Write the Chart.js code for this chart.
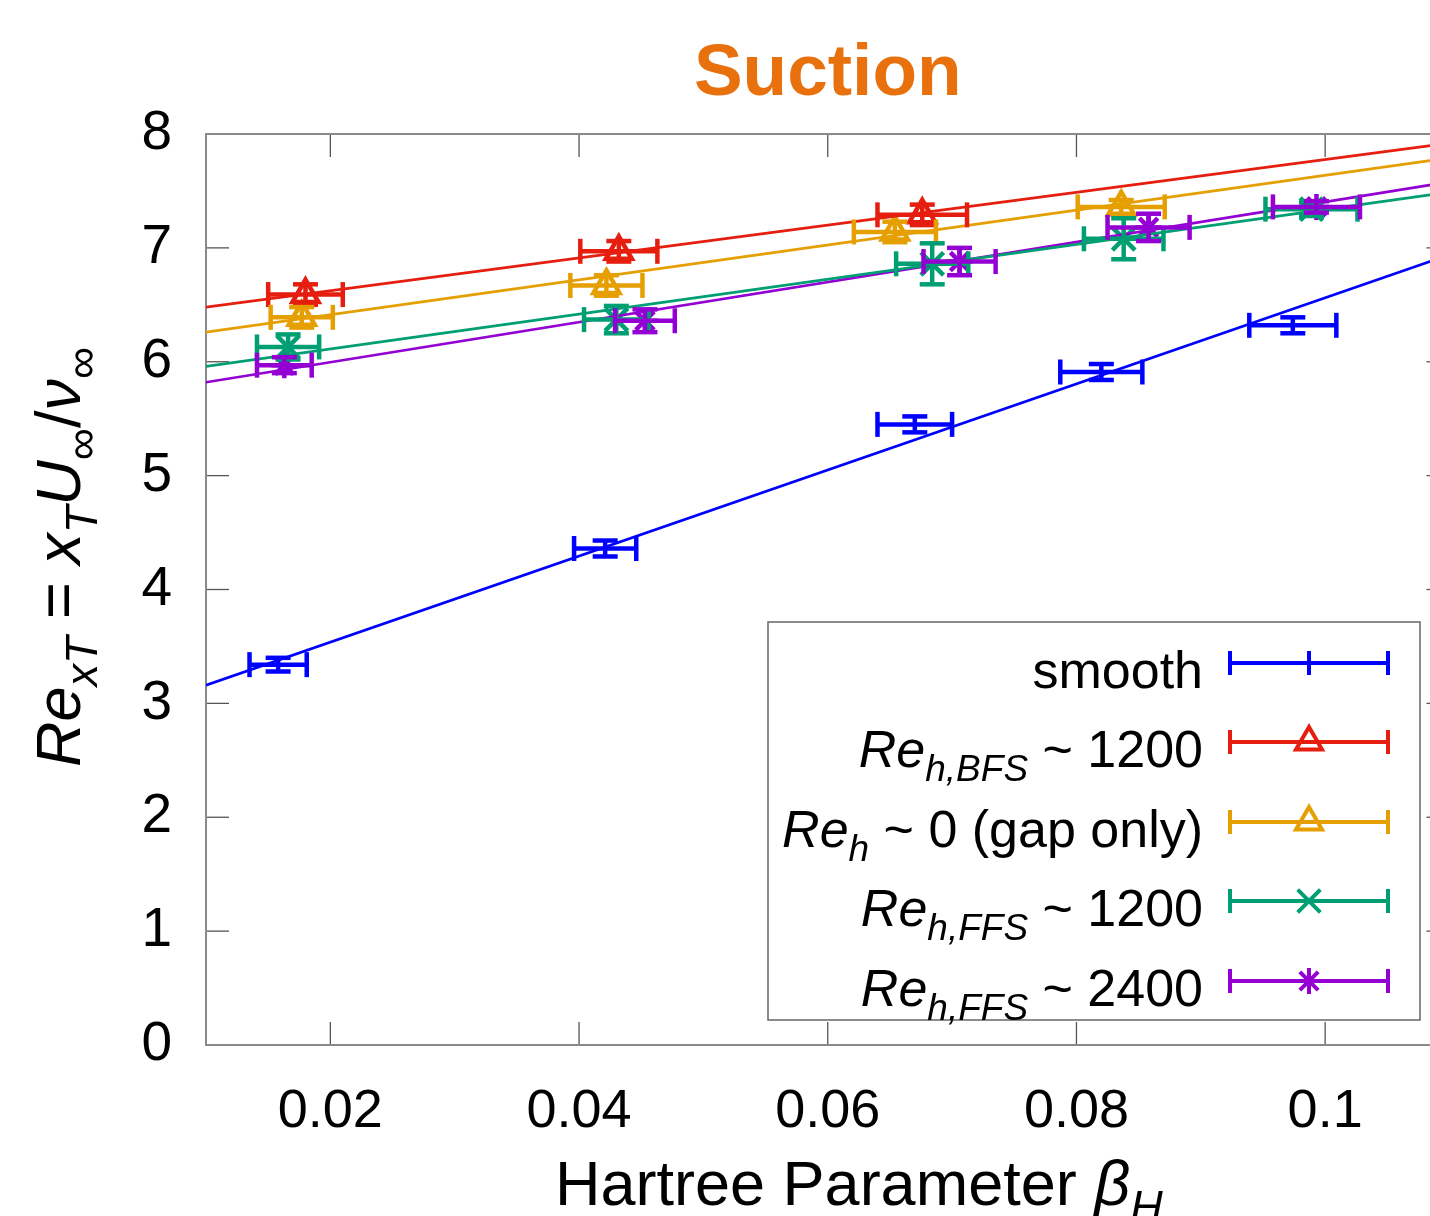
<!DOCTYPE html>
<html>
<head>
<meta charset="utf-8">
<script src="https://cdn.jsdelivr.net/npm/chart.js@4.4.0/dist/chart.umd.min.js"></script>
<style>
  html, body { margin: 0; padding: 0; background: #fff; overflow: hidden; }
  #wrap { position: relative; width: 1430px; height: 1216px; overflow: hidden; }
  canvas { display: block; }
</style>
</head>
<body>
<div id="wrap"><canvas id="chart" width="1470" height="1216"></canvas></div>
<script>
// axis ticks
const xTicks = [0.02, 0.04, 0.06, 0.08, 0.1];
const xTickLabels = ['0.02', '0.04', '0.06', '0.08', '0.1'];
const yTicks = [0, 1, 2, 3, 4, 5, 6, 7, 8];

// smooth
const smoothX = [0.0158, 0.0421, 0.0670, 0.0820, 0.0974];
const smoothY = [3.34, 4.36, 5.45, 5.91, 6.32];
const smoothXErr = [0.0023, 0.0025, 0.0030, 0.0033, 0.0035];
const smoothYErr = [0.06, 0.07, 0.07, 0.07, 0.07];
const smoothFit = [3.16, 6.94];   // fit line at x = 0.01 and x = 0.11

// Re_h,BFS ~ 1200
const bfsX = [0.0180, 0.0432, 0.0676];
const bfsY = [6.59, 6.97, 7.29];
const bfsXErr = [0.0030, 0.0031, 0.0036];
const bfsYErr = [0.09, 0.09, 0.09];
const bfsFit = [6.48, 7.92];

// Re_h ~ 0 (gap only)
const gapX = [0.0177, 0.0422, 0.0654, 0.0836];
const gapY = [6.39, 6.67, 7.14, 7.36];
const gapXErr = [0.0025, 0.0029, 0.0033, 0.0035];
const gapYErr = [0.09, 0.09, 0.09, 0.06];
const gapFit = [6.26, 7.79];

// Re_h,FFS ~ 1200
const ffs1X = [0.0166, 0.0430, 0.0684, 0.0838, 0.0989];
const ffs1Y = [6.13, 6.37, 6.86, 7.08, 7.34];
const ffs1XErr = [0.0025, 0.0026, 0.0029, 0.0032, 0.0037];
const ffs1YErr = [0.11, 0.12, 0.18, 0.18, 0.06];
const ffs1Fit = [5.96, 7.49];

// Re_h,FFS ~ 2400
const ffs2X = [0.0163, 0.0453, 0.0706, 0.0858, 0.0993];
const ffs2Y = [5.97, 6.36, 6.88, 7.18, 7.36];
const ffs2XErr = [0.0022, 0.0024, 0.0029, 0.0033, 0.0035];
const ffs2YErr = [0.07, 0.10, 0.12, 0.12, 0.05];
const ffs2Fit = [5.82, 7.58];

const FONT = '"Liberation Sans", Arial, sans-serif';

const series = [
  { name: [['smooth', '']], color: '#0000ff', xs: smoothX, ys: smoothY, xe: smoothXErr, ye: smoothYErr, fit: smoothFit, style: false, r: 0 },
  { name: [['Re', 'i'], ['h,BFS', 'si'], [' ~ 1200', '']], color: '#e51e10', xs: bfsX, ys: bfsY, xe: bfsXErr, ye: bfsYErr, fit: bfsFit, style: 'triangle', r: 15 },
  { name: [['Re', 'i'], ['h', 'si'], [' ~ 0 (gap only)', '']], color: '#e69f00', xs: gapX, ys: gapY, xe: gapXErr, ye: gapYErr, fit: gapFit, style: 'triangle', r: 15 },
  { name: [['Re', 'i'], ['h,FFS', 'si'], [' ~ 1200', '']], color: '#009e73', xs: ffs1X, ys: ffs1Y, xe: ffs1XErr, ye: ffs1YErr, fit: ffs1Fit, style: 'crossRot', r: 16 },
  { name: [['Re', 'i'], ['h,FFS', 'si'], [' ~ 2400', '']], color: '#9400d3', xs: ffs2X, ys: ffs2Y, xe: ffs2XErr, ye: ffs2YErr, fit: ffs2Fit, style: 'star', r: 13 }
];

const X_MIN = 0.01, X_MAX = 0.11;
const BAR_W = 4.5;

// rich text: parts are [text, style]; style '' normal, 'i' italic, 'si' italic subscript, 'su' upright subscript
function partFont(style, size) {
  const sub = style[0] === 's';
  const it = style.indexOf('i') >= 0;
  return (it ? 'italic ' : '') + Math.round(sub ? size * 0.72 : size) + 'px ' + FONT;
}
function richWidth(ctx, parts, size) {
  let w = 0;
  parts.forEach(([t, s]) => { ctx.font = partFont(s, size); w += ctx.measureText(t).width; });
  return w;
}
function drawRich(ctx, parts, x, y, size, align) {
  const w = richWidth(ctx, parts, size);
  let cx = align === 'right' ? x - w : align === 'center' ? x - w / 2 : x;
  ctx.textAlign = 'left';
  ctx.textBaseline = 'alphabetic';
  parts.forEach(([t, s]) => {
    ctx.font = partFont(s, size);
    const dy = s[0] === 's' ? size * 0.27 : 0;
    ctx.fillText(t, cx, y + dy);
    cx += ctx.measureText(t).width;
  });
}
function seg(ctx, x1, y1, x2, y2) {
  ctx.beginPath(); ctx.moveTo(x1, y1); ctx.lineTo(x2, y2); ctx.stroke();
}

const framePlugin = {
  id: 'frame',
  beforeDatasetsDraw(chart) {
    const { ctx, chartArea: a, scales: { x, y } } = chart;
    ctx.save();
    ctx.strokeStyle = '#555';
    ctx.lineWidth = 1.3;
    xTicks.forEach(v => {
      const px = x.getPixelForValue(v);
      seg(ctx, px, a.bottom, px, a.bottom - 23);
      seg(ctx, px, a.top, px, a.top + 23);
    });
    yTicks.forEach(v => {
      const py = y.getPixelForValue(v);
      seg(ctx, a.left, py, a.left + 23, py);
      seg(ctx, a.right, py, a.right - 23, py);
    });
    ctx.strokeStyle = '#8a8a8a';
    ctx.lineWidth = 2;
    ctx.strokeRect(a.left, a.top, a.right - a.left, a.bottom - a.top);
    ctx.restore();
  },
  afterDatasetsDraw(chart) {
    const { ctx, scales: { x, y } } = chart;
    ctx.save();
    ctx.lineWidth = BAR_W;
    ctx.lineCap = 'butt';
    series.forEach(s => {
      ctx.strokeStyle = s.color;
      s.xs.forEach((xv, i) => {
        const px = x.getPixelForValue(xv);
        const py = y.getPixelForValue(s.ys[i]);
        const xl = x.getPixelForValue(xv - s.xe[i]);
        const xr = x.getPixelForValue(xv + s.xe[i]);
        const yt = y.getPixelForValue(s.ys[i] + s.ye[i]);
        const yb = y.getPixelForValue(s.ys[i] - s.ye[i]);
        seg(ctx, xl, py, xr, py);
        seg(ctx, xl, py - 12.5, xl, py + 12.5);
        seg(ctx, xr, py - 12.5, xr, py + 12.5);
        seg(ctx, px, yt, px, yb);
        seg(ctx, px - 12.5, yt, px + 12.5, yt);
        seg(ctx, px - 12.5, yb, px + 12.5, yb);
      });
    });
    ctx.restore();
  },
  afterDraw(chart) {
    const { ctx, chartArea: a } = chart;
    ctx.save();

    // title
    ctx.fillStyle = '#e8710e';
    ctx.font = 'bold 73px ' + FONT;
    ctx.textAlign = 'center';
    ctx.textBaseline = 'alphabetic';
    ctx.fillText('Suction', (a.left + a.right) / 2, 95);

    // axis titles
    ctx.fillStyle = '#000';
    drawRich(ctx, [['Hartree Parameter ', ''], ['β', 'i'], ['H', 'si']], 555, 1205, 63, 'left');
    ctx.save();
    ctx.translate(80, 557);
    ctx.rotate(-Math.PI / 2);
    drawRich(ctx, [['Re', 'i'], ['xT', 'si'], [' = ', ''], ['x', 'i'], ['T', 'si'], ['U', 'i'], ['∞', 'su'], ['/', ''], ['ν', 'i'], ['∞', 'su']], 0, 0, 63, 'center');
    ctx.restore();

    // key
    ctx.fillStyle = '#fff';
    ctx.fillRect(768, 622, 652, 398);
    ctx.strokeStyle = '#666';
    ctx.lineWidth = 1.5;
    ctx.strokeRect(768, 622, 652, 398);
    const rows = [663, 742, 822, 901, 981];
    series.forEach((s, i) => {
      const ry = rows[i];
      ctx.fillStyle = '#000';
      drawRich(ctx, s.name, 1203, ry + 25, 52, 'right');
      ctx.strokeStyle = s.color;
      ctx.lineWidth = 4;
      seg(ctx, 1230, ry, 1388, ry);
      seg(ctx, 1230, ry - 12, 1230, ry + 12);
      seg(ctx, 1388, ry - 12, 1388, ry + 12);
      if (s.style) {
        ctx.fillStyle = 'rgba(0,0,0,0)';
        Chart.helpers.drawPoint(ctx, { pointStyle: s.style, radius: s.r, rotation: 0, borderWidth: BAR_W }, 1309, ry);
      } else {
        seg(ctx, 1309, ry - 12, 1309, ry + 12);
      }
    });
    ctx.restore();
  }
};

const datasets = [];
series.forEach(s => {
  datasets.push({
    type: 'line',
    data: [{ x: X_MIN, y: s.fit[0] }, { x: X_MAX, y: s.fit[1] }],
    borderColor: s.color,
    borderWidth: 2.7,
    pointRadius: 0,
    fill: false
  });
});
series.forEach(s => {
  datasets.push({
    type: 'scatter',
    data: s.xs.map((v, i) => ({ x: v, y: s.ys[i] })),
    borderColor: s.color,
    backgroundColor: 'rgba(0,0,0,0)',
    pointStyle: s.style || 'circle',
    pointRadius: s.r,
    pointBorderWidth: BAR_W,
    pointBackgroundColor: 'rgba(0,0,0,0)'
  });
});

new Chart(document.getElementById('chart'), {
  type: 'scatter',
  data: { datasets },
  options: {
    responsive: false,
    animation: false,
    devicePixelRatio: 1,
    layout: { padding: { top: 134, right: 17, left: 0, bottom: 0 } },
    plugins: { legend: { display: false }, title: { display: false }, tooltip: { enabled: false } },
    scales: {
      x: {
        type: 'linear',
        min: X_MIN,
        max: X_MAX,
        grid: { display: false },
        border: { display: false },
        afterBuildTicks: sc => { sc.ticks = xTicks.map(v => ({ value: v })); },
        afterFit: sc => { sc.height = 171; },
        ticks: {
          color: '#000',
          padding: 27,
          autoSkip: false,
          maxRotation: 0,
          font: { family: FONT, size: 54 },
          callback: (v) => xTickLabels[xTicks.findIndex(t => Math.abs(t - v) < 1e-9)]
        }
      },
      y: {
        type: 'linear',
        min: 0,
        max: 8,
        grid: { display: false },
        border: { display: false },
        afterBuildTicks: sc => { sc.ticks = yTicks.map(v => ({ value: v })); },
        afterFit: sc => { sc.width = 206; },
        ticks: {
          color: '#000',
          padding: 26,
          font: { family: FONT, size: 55 },
          callback: v => String(v)
        }
      }
    }
  },
  plugins: [framePlugin]
});
</script>
</body>
</html>
